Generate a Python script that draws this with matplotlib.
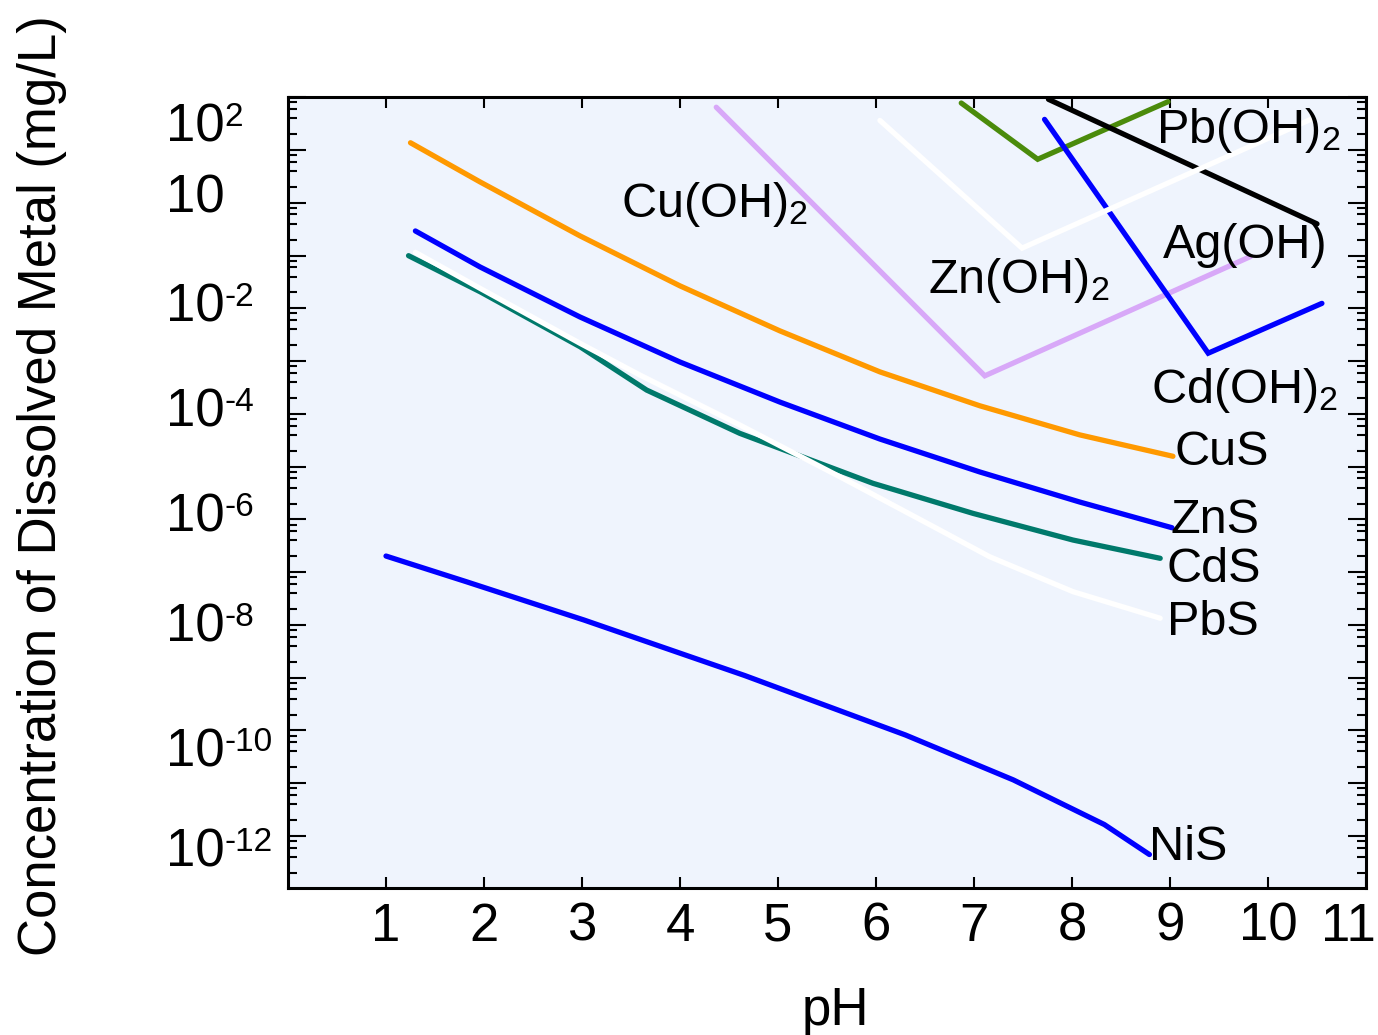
import numpy as np
import matplotlib
matplotlib.use("Agg")
import matplotlib.pyplot as plt
from matplotlib.ticker import LogLocator, NullFormatter
from matplotlib.transforms import blended_transform_factory, offset_copy, ScaledTranslation

plt.rcParams['font.family'] = ['Liberation Sans', 'DejaVu Sans']
plt.rcParams['mathtext.fontset'] = 'custom'
plt.rcParams['mathtext.rm'] = 'Liberation Sans'
plt.rcParams['mathtext.it'] = 'Liberation Sans:italic'
plt.rcParams['mathtext.bf'] = 'Liberation Sans:bold'
plt.rcParams['mathtext.sf'] = 'Liberation Sans'

# ---------------- data (pH, dissolved metal mg/L) ----------------
cus_ph = [1.25, 1.96, 2.98, 4.0, 5.02, 6.04, 7.06, 8.08, 9.03]
cus_c = [13.7, 2.48, 0.2355, 0.0266, 3.73e-3, 6.24e-4, 1.42e-4, 3.99e-5, 1.57e-5]

zns_ph = [1.30, 1.96, 2.98, 4.0, 5.02, 6.04, 7.06, 8.08, 9.02]
zns_c = [0.292, 0.0607, 6.84e-3, 9.59e-4, 1.67e-4, 3.33e-5, 7.91e-6, 2.13e-6, 6.95e-7]

cds_ph = [1.23, 1.96, 2.98, 3.66, 4.61, 5.97, 6.99, 8.01, 8.90]
cds_c = [0.0993, 0.0206, 1.87e-3, 2.82e-4, 4.27e-5, 4.82e-6, 1.30e-6, 4.06e-7, 1.83e-7]

pbs_ph = [1.30, 1.96, 2.98, 3.59, 4.61, 5.63, 6.65, 7.16, 8.01, 8.90]
pbs_c = [0.115, 0.0239, 2.17e-3, 5.45e-4, 6.15e-5, 6.44e-6, 6.30e-7, 1.96e-7, 4.27e-8, 1.34e-8]

nis_ph = [1.0, 1.82, 3.02, 4.66, 6.30, 7.40, 8.33, 8.79]
nis_c = [2.02e-7, 6.59e-8, 1.24e-8, 1.10e-9, 8.22e-11, 1.16e-11, 1.65e-12, 4.46e-13]

cuoh_ph = [4.37, 7.11, 9.82]
cuoh_c = [64.6, 5.25e-4, 0.0955]

znoh_ph = [6.04, 7.49, 10.46]
znoh_c = [36.3, 0.138, 39.8]

pboh_ph = [6.87, 7.65, 8.98]
pboh_c = [77.6, 6.67, 82.2]

agoh_ph = [7.76, 10.50]
agoh_c = [91.2, 0.398]

cdoh_ph = [7.72, 9.39, 10.55]
cdoh_c = [38.0, 1.41e-3, 0.0124]

ann_labels = [r'Cu(OH)$_\mathregular{2}$', r'Zn(OH)$_\mathregular{2}$', r'Pb(OH)$_\mathregular{2}$',
              'Ag(OH)', r'Cd(OH)$_\mathregular{2}$', 'CuS', 'ZnS', 'CdS', 'PbS', 'NiS']
ann_ph = [3.40, 6.53, 8.86, 8.93, 8.81, 9.05, 9.00, 8.96, 8.97, 8.79]
ann_c = [0.537, 0.0192, 13.4, 0.0891, 1.62e-4, 1.07e-5, 5.5e-7, 6.46e-8, 6.46e-9, 3.55e-13]

xtick_vals = [1, 2, 3, 4, 5, 6, 7, 8, 9, 10, 11]
xtick_labels = ['1', '2', '3', '4', '5', '6', '7', '8', '9', '10', '11']
ytick_base = ['10', '10', '10', '10', '10', '10', '10', '10']
ytick_sup = ['2', '', '-2', '-4', '-6', '-8', '-10', '-12']
ytick_label_pos = [10**1.152, 10**-0.194, 10**-2.259, 10**-4.249, 10**-6.239, 10**-8.323,
                   10**-10.692, 10**-12.587]

# ---------------- figure ----------------
W, H = 1378, 1035
fig = plt.figure(figsize=(W / 100, H / 100), dpi=100)
fig.patch.set_facecolor('white')
ax = fig.add_axes([288 / W, (H - 888) / H, (1366 - 288) / W, (888 - 97) / H])
ax.set_facecolor('#eff4fd')
ax.set_yscale('log')
ax.set_xlim(0, 11)
ax.set_ylim(10**-12.985, 10**2.004)

kw = dict(lw=3.8, solid_capstyle='round', solid_joinstyle='miter')
ax.plot(cus_ph, cus_c, color='#ff9900', **kw)
ax.plot(zns_ph, zns_c, color='#0000ff', **kw)
ax.plot(cds_ph, cds_c, color='#00796b', **kw)
ax.plot(pbs_ph, pbs_c, color='#ffffff', **kw)
ax.plot(nis_ph, nis_c, color='#0000ff', **kw)
ax.plot(cuoh_ph, cuoh_c, color='#d8a8f8', **kw)
ax.plot(pboh_ph, pboh_c, color='#4b8b0b', **kw)
ax.plot(agoh_ph, agoh_c, color='#000000', **kw)
ax.plot(cdoh_ph, cdoh_c, color='#0000ff', **kw)
ax.plot(znoh_ph, znoh_c, color='#ffffff', **kw)

for lab, x, y in zip(ann_labels, ann_ph, ann_c):
    ax.text(x, y, lab, fontsize=35, ha='left', va='baseline', color='black', zorder=5)

# ticks
ax.set_xticks(xtick_vals)
ax.set_xticklabels(xtick_labels)
ax.yaxis.set_major_locator(LogLocator(base=10, numticks=40))
ax.yaxis.set_minor_locator(LogLocator(base=10, subs=(2, 4, 6, 8), numticks=40))
ax.yaxis.set_major_formatter(NullFormatter())
ax.yaxis.set_minor_formatter(NullFormatter())
ax.tick_params(axis='x', which='major', direction='in', length=8, width=1.5,
               top=True, bottom=True, labelsize=38, pad=10)
ax.tick_params(axis='y', which='major', direction='in', length=13, width=1.5,
               left=True, right=True)
ax.tick_params(axis='y', which='minor', direction='in', length=6.5, width=1.5,
               left=True, right=True)
for s in ax.spines.values():
    s.set_linewidth(2.2)

# keep the last x label inside the picture edge
lbl11 = ax.get_xticklabels()[-1]
lbl11.set_horizontalalignment('right')
lbl11.set_transform(lbl11.get_transform() + ScaledTranslation(10 / 100, 0, fig.dpi_scale_trans))

tr = blended_transform_factory(ax.transAxes, ax.transData)
tr_sup = offset_copy(tr, fig=fig, x=58.7, y=16, units='dots')
xa = (166 - 288) / 1078
for base, sup, y in zip(ytick_base, ytick_sup, ytick_label_pos):
    ax.text(xa, y, base, transform=tr, ha='left', va='baseline', fontsize=38, clip_on=False)
    if sup:
        ax.text(xa, y, sup, transform=tr_sup, ha='left', va='baseline', fontsize=24,
                clip_on=False)

fig.text(835 / W, (H - 1025) / H, 'pH', fontsize=38, ha='center', va='baseline')
fig.text(42 / W, (H - 486) / H, 'Concentration of Dissolved Metal (mg/L)', fontsize=38,
         rotation=90, ha='center', va='center')

fig.savefig('out.png', dpi=100)
